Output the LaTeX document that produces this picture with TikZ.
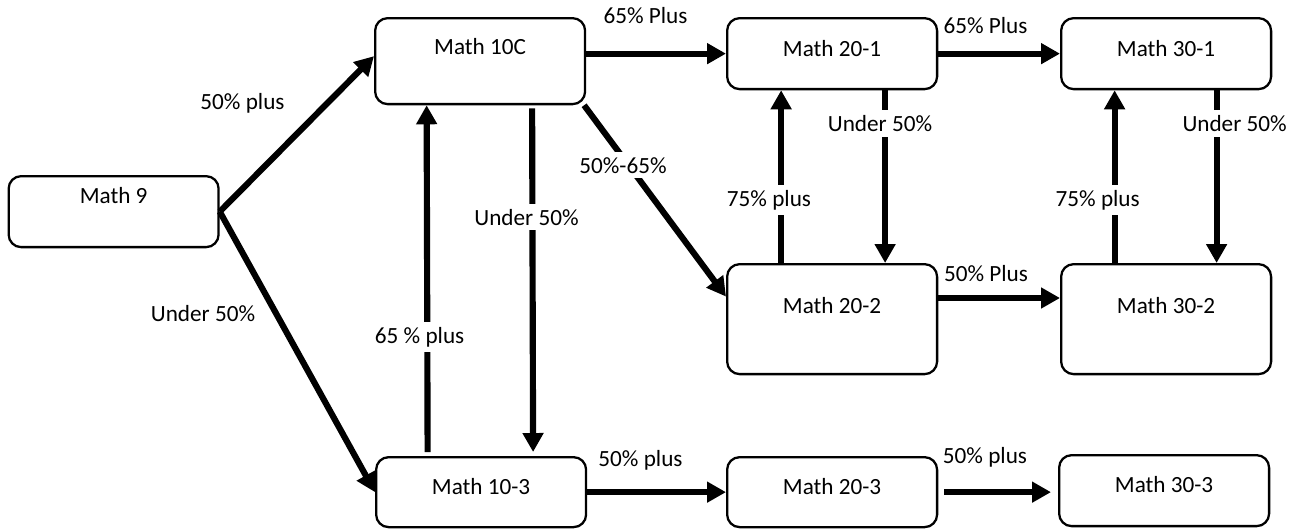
\documentclass[tikz,border=0pt]{standalone}
\usepackage{fontspec}
\setmainfont{Carlito}
\usetikzlibrary{arrows.meta}

\tikzset{
  box/.style={draw, line width=1.3pt, rounded corners=0.25cm, minimum width=4.2cm,
    inner sep=0pt, anchor=north west, font=\fontsize{13.2}{16}\selectfont},
  flow/.style={line width=3.5pt, -{Triangle[width=0.4cm,length=0.38cm]}},
  lbl/.style={anchor=base, inner sep=0pt, font=\fontsize{13.2}{16}\selectfont},
  lblw/.style={lbl, fill=white, inner xsep=1pt, inner ysep=3pt},
}

\begin{document}
\begin{tikzpicture}[x=0.02cm, y=-0.02cm]
  \useasboundingbox (0,0) rectangle (1299,529);

  % course boxes
  \node[box, text height=0.54cm, text depth=0.88cm] (m9)   at (7.5,175) {Math 9};
  \node[box, text height=0.72cm, text depth=1.0cm]  (m10c) at (374,17)  {Math 10C};
  \node[box, text height=0.76cm, text depth=0.66cm] (m201) at (726,17)  {Math 20-1};
  \node[box, text height=0.76cm, text depth=0.66cm] (m301) at (1060,17) {Math 30-1};
  \node[box, text height=0.98cm, text depth=1.22cm] (m202) at (726,263) {Math 20-2};
  \node[box, text height=0.98cm, text depth=1.22cm] (m302) at (1060,263) {Math 30-2};
  \node[box, text height=0.74cm, text depth=0.66cm] (m103) at (375,456) {Math 10-3};
  \node[box, text height=0.74cm, text depth=0.66cm] (m203) at (726,456) {Math 20-3};
  \node[box, text height=0.74cm, text depth=0.68cm] (m303) at (1058,454) {Math 30-3};

  % arrows
  \draw[flow] (m9.east) -- ([yshift=0.1cm]m10c.west);
  \draw[flow] (m9.east) -- (m103.west);
  \draw[flow] (m10c.east |- m201.west) -- (m201.west);
  \draw[flow] (m201.east) -- (m301.west);
  \draw[flow] (m10c.-23.5) -- (m202.168);
  \draw[flow, shorten <=0.06cm, shorten >=0.08cm] ([xshift=1.04cm]m10c.south) -- ([xshift=1.04cm]m103.north);
  \draw[flow, shorten <=0.08cm] ([xshift=-1.07cm]m103.north) -- ([xshift=-1.07cm]m10c.south);
  \draw[flow] ([xshift=1.06cm]m201.south) -- ([xshift=1.06cm]m202.north);
  \draw[flow] ([xshift=-1.02cm]m202.north) -- ([xshift=-1.02cm]m201.south);
  \draw[flow] ([xshift=1.01cm]m301.south) -- ([xshift=1.01cm]m302.north);
  \draw[flow] ([xshift=-1.03cm]m302.north) -- ([xshift=-1.03cm]m301.south);
  \draw[flow] ([yshift=-0.7cm]m202.north east) -- ([yshift=-0.7cm]m302.north west);
  \draw[flow] (m103.east) -- (m203.west);
  \draw[flow, shorten <=0.12cm, shorten >=0.14cm] (m203.east) -- (m203.east -| m303.west);

  % labels
  \node[lbl]  (l9a)   at (242.5,109) {50\% plus};
  \node[lbl]  (l9b)   at (203,321.7) {Under 50\%};
  \node[lblw] (l10d)  at (526.5,225) {Under 50\%};
  \node[lblw] (l10u)  at (419.6,343) {65 \% plus};
  \node[lblw] (l10x)  at (623,173)   {50\%-65\%};
  \node[lbl]  (l10r)  at (645.5,23)  {65\% Plus};
  \node[lbl]  (l20r)  at (985.5,33)  {65\% Plus};
  \node[lblw] (l20d)  at (880,131.7) {Under 50\%};
  \node[lblw] (l20u)  at (769,206)   {75\% plus};
  \node[lblw] (l30d)  at (1234.6,131.7) {Under 50\%};
  \node[lblw] (l30u)  at (1097.7,206) {75\% plus};
  \node[lbl]  (l22r)  at (986,281)   {50\% Plus};
  \node[lbl]  (l13r)  at (640.5,466) {50\% plus};
  \node[lbl]  (l23r)  at (985,463)   {50\% plus};
\end{tikzpicture}
\end{document}
